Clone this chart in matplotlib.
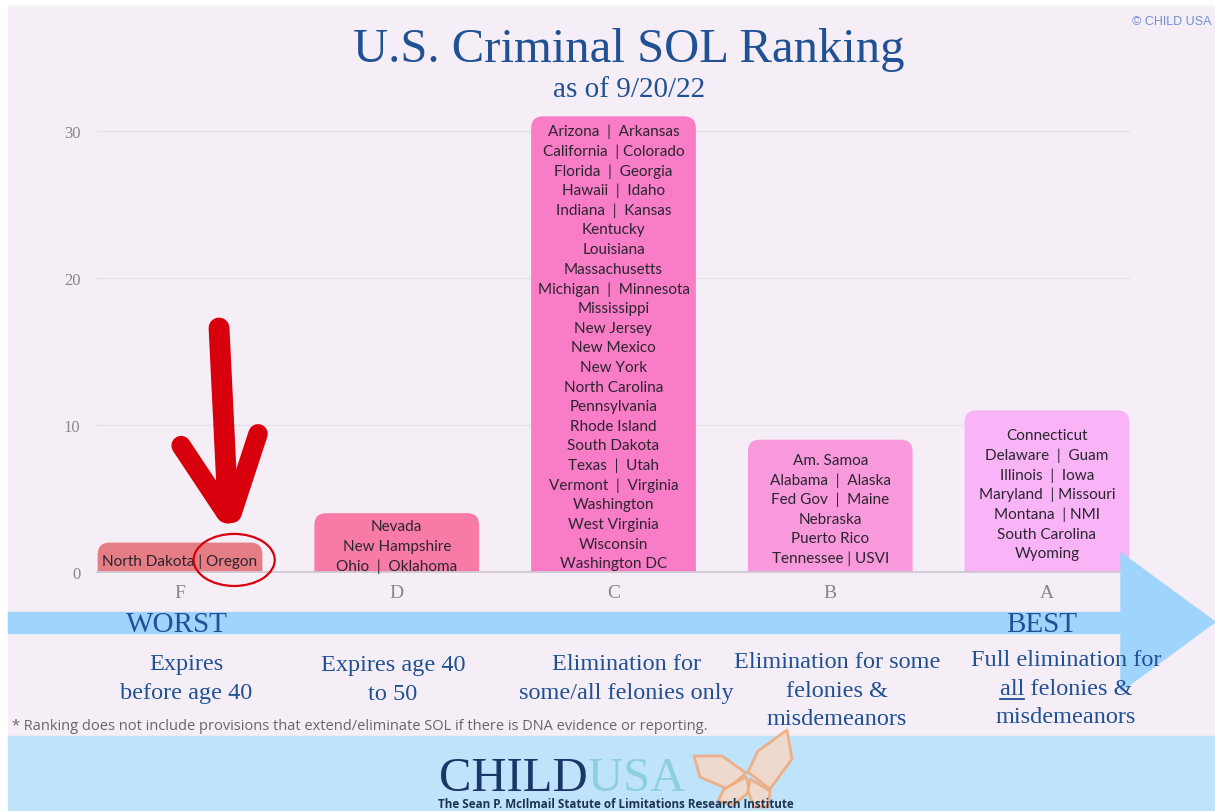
import matplotlib
matplotlib.use("Agg")
import matplotlib.pyplot as plt
from matplotlib.patches import FancyBboxPatch, Rectangle, Polygon, Ellipse
from matplotlib.lines import Line2D

# ---- data ----
grades = ["F", "D", "C", "B", "A"]
counts = [2, 4, 31, 9, 11]
bar_colors = ["#e57d84", "#f77ba6", "#f87cc6", "#f899dc", "#f8b4f6"]

states_f = ["North Dakota | Oregon"]
states_d = ["Nevada", "New Hampshire", "Ohio  |  Oklahoma"]
states_c = ["Arizona  |  Arkansas", "California  | Colorado", "Florida  |  Georgia",
            "Hawaii  |  Idaho", "Indiana  |  Kansas", "Kentucky", "Louisiana",
            "Massachusetts", "Michigan  |  Minnesota", "Mississippi", "New Jersey",
            "New Mexico", "New York", "North Carolina", "Pennsylvania", "Rhode Island",
            "South Dakota", "Texas  |  Utah", "Vermont  |  Virginia", "Washington",
            "West Virginia", "Wisconsin", "Washington DC"]
states_b = ["Am. Samoa", "Alabama  |  Alaska", "Fed Gov  |  Maine", "Nebraska",
            "Puerto Rico", "Tennessee | USVI"]
states_a = ["Connecticut", "Delaware  |  Guam", "Illinois  |  Iowa",
            "Maryland  | Missouri", "Montana  | NMI", "South Carolina", "Wyoming"]
bar_states = [states_f, states_d, states_c, states_b, states_a]

yticks = [0, 10, 20, 30]

desc_lines = [["Expires", "before age 40"],
              ["Expires age 40", "to 50"],
              ["Elimination for", "some/all felonies only"],
              ["Elimination for some", "felonies &", "misdemeanors"],
              ["Full elimination for", "all felonies &", "misdemeanors"]]

title = "U.S. Criminal SOL Ranking"
subtitle = "as of 9/20/22"
footnote = ("* Ranking does not include provisions that extend/eliminate SOL "
            "if there is DNA evidence or reporting.")

# ---- figure ----
W, H = 1215, 812
fig = plt.figure(figsize=(W / 100, H / 100), dpi=100, facecolor="white")


def fx(x):
    return x / W


def fy(y):
    return 1 - y / H


SERIF = "Liberation Serif"
BLUE = "#1f5194"

# background panels
fig.add_artist(Rectangle((fx(8), fy(737)), fx(W - 8), 730 / H,
                         transform=fig.transFigure, color="#f6eef6", zorder=-2))
fig.add_artist(Rectangle((fx(8), 0), fx(W - 8), fy(737),
                         transform=fig.transFigure, color="#bee3fb", zorder=-2))

# axes
ax_l, ax_r, ax_b, ax_t = 97, 1130, 573, 102.6
ax = fig.add_axes([fx(ax_l), fy(ax_b), (ax_r - ax_l) / W, (ax_b - ax_t) / H])
ax.set_facecolor("none")
xlim = (-0.383, len(grades) - 1 + 0.383)
ylim = (0, 32)
ax.set_xlim(*xlim)
ax.set_ylim(*ylim)
for s in ax.spines.values():
    s.set_visible(False)

ax.set_yticks(yticks)
ax.set_yticklabels([str(v) for v in yticks], fontfamily=SERIF, fontsize=12, color="#8a8589")
ax.set_xticks(range(len(grades)))
ax.set_xticklabels(grades, fontfamily=SERIF, fontsize=14, color="#8a8589")
ax.tick_params(length=0)
ax.tick_params(axis="y", pad=12)
ax.tick_params(axis="x", pad=9)
for v in yticks[1:]:
    ax.axhline(v, color="#e8e1ea", lw=1, zorder=0)
ax.axhline(0, color="#cfc9d1", lw=1.3, zorder=3, clip_on=False)

# rounded-top bars
px_x = (ax_r - ax_l) / (xlim[1] - xlim[0])
px_y = (ax_b - ax_t) / (ylim[1] - ylim[0])
aspect = px_x / px_y
radius = 12 / px_x
bars = ax.bar(range(len(grades)), counts, width=0.76, color=bar_colors)
for b in bars:
    b.set_visible(False)
    ax.add_patch(FancyBboxPatch((b.get_x(), -2), b.get_width(), b.get_height() + 2,
                                boxstyle=f"round,pad=0,rounding_size={radius}",
                                mutation_aspect=aspect, facecolor=b.get_facecolor(),
                                edgecolor="none", zorder=2))

# state names inside the bars
line_pt = 19.65 * 0.72
for i, (b, lines) in enumerate(zip(bars, bar_states)):
    n = len(lines)
    for j, line in enumerate(lines):
        off = ((n - 1) / 2 - j) * line_pt - 2.2
        ax.annotate(line, xy=(b.get_x() + b.get_width() / 2, b.get_height() / 2),
                    xytext=(0, off), textcoords="offset points", ha="center",
                    va="center", fontfamily="Lato", fontsize=11, color="#2b2530",
                    zorder=4)

# red hand-drawn arrow and circle on Oregon
red = "#d8000c"
for xs, ys, lw in [([0.18, 0.222], [16.6, 4.0], 15),
                   ([0.005, 0.212], [8.6, 4.0], 14),
                   ([0.36, 0.24], [9.4, 4.0], 14)]:
    ax.add_line(Line2D(xs, ys, color=red, lw=lw, solid_capstyle="round",
                       clip_on=False, zorder=5))
ax.add_patch(Ellipse((0.25, 0.82), 0.374, 3.54, fill=False, edgecolor=red, lw=1.6,
                     clip_on=False, zorder=5))

# light blue ranking arrow
arrow_c = "#9fd5fd"
fig.add_artist(Rectangle((fx(8), fy(634)), (1121 - 8) / W, 21 / H,
                         transform=fig.transFigure, color=arrow_c, zorder=1))
fig.add_artist(Polygon([(fx(1121), fy(554)), (fx(1215), fy(623)), (fx(1121), fy(692))],
                       closed=True, transform=fig.transFigure, color=arrow_c, zorder=1))
fig.text(fx(177), fy(625), "WORST", ha="center", va="center", fontfamily=SERIF,
         fontsize=21, color=BLUE)
fig.text(fx(1042), fy(625), "BEST", ha="center", va="center", fontfamily=SERIF,
         fontsize=21, color=BLUE)

# titles
fig.text(fx(629), fy(50), title, ha="center", va="center", fontfamily=SERIF,
         fontsize=35, color=BLUE)
fig.text(fx(629), fy(90), subtitle, ha="center", va="center", fontfamily=SERIF,
         fontsize=21, color=BLUE)
fig.text(fx(1211), fy(22), "\u00a9 CHILD USA", ha="right", va="center",
         fontfamily="Liberation Sans", fontsize=9, color="#6f8fd4")

# category descriptions
desc_x = [186, 393, 626, 837, 1066]
desc_top = [665, 666, 665, 663, 661]
renderer = fig.canvas.get_renderer()
for cx, ty, lines in zip(desc_x, desc_top, desc_lines):
    for j, line in enumerate(lines):
        t = fig.text(fx(cx), fy(ty + j * 28.5), line, ha="center", va="center",
                     fontfamily=SERIF, fontsize=17.5, color=BLUE)
        if line.startswith("all "):
            bb = t.get_window_extent(renderer)
            tmp = fig.text(0, 0, "all", fontfamily=SERIF, fontsize=17.5)
            w = tmp.get_window_extent(renderer).width
            tmp.remove()
            uy = fy(ty + j * 28.5 + 10)
            fig.add_artist(Line2D([bb.x0 / W, (bb.x0 + w) / W], [uy, uy],
                                  transform=fig.transFigure, color=BLUE, lw=1.3))

fig.text(fx(12), fy(727), footnote, ha="left", va="center", fontfamily="Open Sans",
         fontsize=10.5, color="#6a6468")

# logo
fig.text(fx(588), fy(791), "CHILD", ha="right", va="baseline", fontfamily=SERIF,
         fontsize=35, color="#1b3768")
fig.text(fx(588), fy(791), "USA", ha="left", va="baseline", fontfamily=SERIF,
         fontsize=35, color="#8ecfdd")
fig.text(fx(616), fy(805), "The Sean P. McIlmail Statute of Limitations Research Institute",
         ha="center", va="center", fontfamily="Open Sans", fontweight="bold",
         fontsize=8.4, color="#1e3350")

# butterfly sketch
orange = "#f0a878"
wings = [[(748, 773), (758, 752), (787, 731), (792, 760), (770, 790)],
         [(746, 774), (722, 757), (694, 757), (700, 778), (728, 790)],
         [(746, 778), (724, 790), (718, 802), (734, 806), (750, 792)],
         [(750, 780), (770, 792), (768, 808), (754, 808), (748, 792)]]
for wpts in wings:
    fig.add_artist(Polygon([(fx(a), fy(b)) for a, b in wpts], closed=True,
                           transform=fig.transFigure, facecolor="#f6d8c6",
                           edgecolor=orange, lw=2, alpha=0.85, joinstyle="round"))

fig.savefig("out.png", dpi=100, facecolor=fig.get_facecolor())
